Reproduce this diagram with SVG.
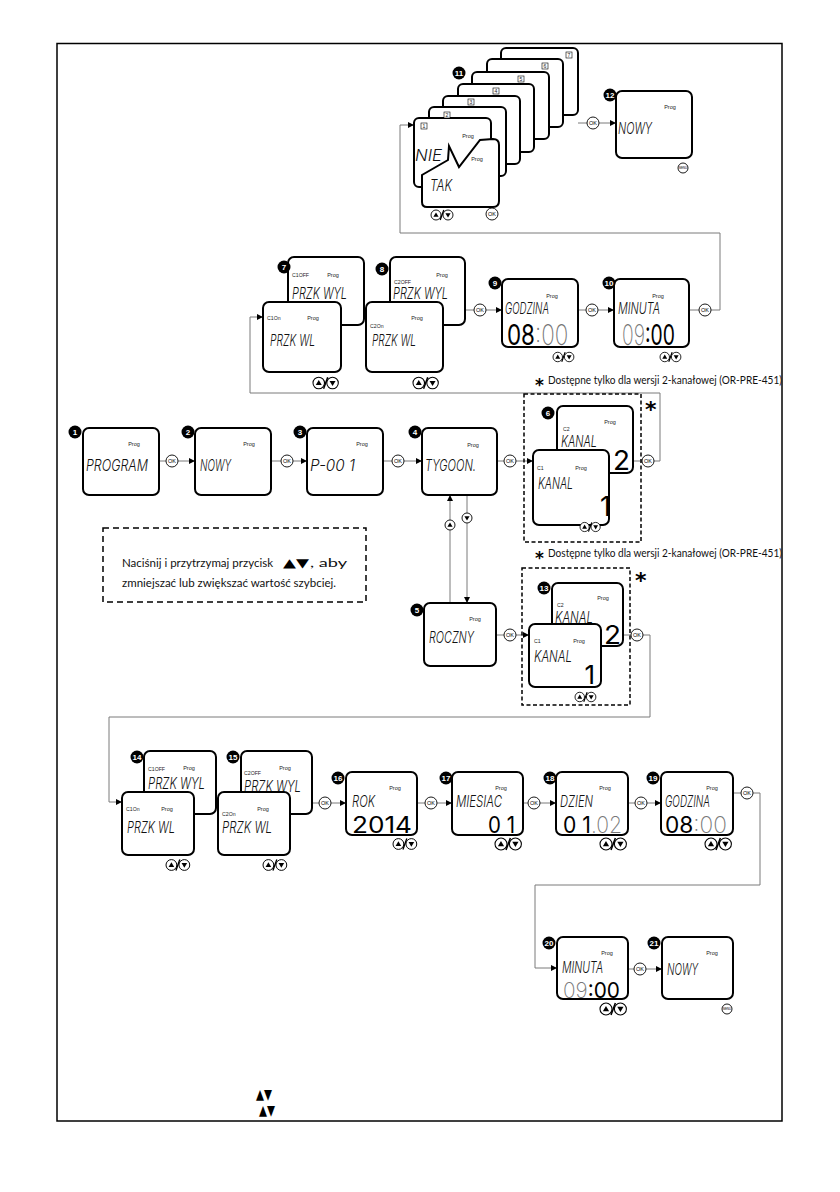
<svg xmlns="http://www.w3.org/2000/svg" xmlns:xlink="http://www.w3.org/1999/xlink" width="840" height="1192" viewBox="0 0 840 1192">
<style>
.box{fill:#fff;stroke:#000;stroke-width:2}
.conn{fill:none;stroke:#7a7a7a;stroke-width:1}
.arr{fill:none;stroke:#7a7a7a;stroke-width:1;marker-end:url(#ah)}
.prog{font-family:"Liberation Sans",Arial,sans-serif;font-size:5.5px;text-anchor:middle;fill:#222}
.ch{font-family:"Liberation Sans",Arial,sans-serif;font-size:5.2px;fill:#222}
.lcd{font-family:Inter,"DejaVu Sans",sans-serif;font-style:italic;font-weight:300;font-size:16px;fill:#111}
.dig{font-family:Inter,"DejaVu Sans",sans-serif;font-weight:400;fill:#000}
.off{fill:#777;font-weight:200}
.bc{fill:#000}
.bt{font-family:"Liberation Sans",Arial,sans-serif;font-weight:bold;font-size:8px;fill:#fff;text-anchor:middle}
.btn{fill:#fff;stroke:#000;stroke-width:0.9}
.note{font-family:Lato,"Liberation Sans",sans-serif;font-size:11.5px;fill:#111}
.small{font-family:"Liberation Sans",Arial,sans-serif;font-size:5px;fill:#222;text-anchor:middle}
.dash{fill:none;stroke:#000;stroke-width:1.5;stroke-dasharray:4 2.5}
</style>
<defs>
<marker id="ah" viewBox="0 0 6 6" refX="6" refY="3" markerWidth="6" markerHeight="6" markerUnits="userSpaceOnUse" orient="auto"><path d="M0,0 L6,3 L0,6 Z" fill="#000"/></marker>
<g id="ud"><circle cx="5" cy="0" r="5" class="btn"/><path d="M5,-2.6 L7.6,1.8 L2.4,1.8 Z"/><line x1="9.2" y1="5" x2="12.8" y2="-5" stroke="#000" stroke-width="1.3"/><circle cx="17" cy="0" r="5" class="btn"/><path d="M17,2.6 L19.6,-1.8 L14.4,-1.8 Z"/></g>
<g id="ok"><circle r="6" class="btn"/><text y="2" font-family="Liberation Sans,Arial,sans-serif" font-size="5.5" text-anchor="middle">OK</text></g>
<g id="menu"><circle r="5" class="btn"/><text y="1" font-family="Liberation Sans,Arial,sans-serif" font-size="2.8" text-anchor="middle">MENU</text></g>
</defs>
<rect width="840" height="1192" fill="#fff"/>
<rect x="57" y="43.5" width="725" height="1077.5" fill="none" stroke="#000" stroke-width="1.5"/>

<g id="connectors">
<path class="conn" d="M689,310 L699,310"/><path class="arr" d="M711,310 L720,310 L720,233 L400,233 L400,125 L414,125"/>
<path class="conn" d="M578,123 L587,123"/><path class="arr" d="M599,123 L616,123"/>
<path class="conn" d="M465,310 L474,310"/><path class="arr" d="M486,310 L502,310"/>
<path class="conn" d="M578,310 L586,310"/><path class="arr" d="M598,310 L614,310"/>
<path class="conn" d="M633,461 L642,461"/><path class="arr" d="M654,461 L660,461 L660,393 L250,393 L250,317 L263,317"/>
<path class="conn" d="M159,461 L166,461"/><path class="arr" d="M178,461 L195,461"/>
<path class="conn" d="M271,461 L281,461"/><path class="arr" d="M293,461 L307,461"/>
<path class="conn" d="M383,461 L392,461"/><path class="arr" d="M404,461 L422,461"/>
<path class="conn" d="M497,461 L504,461"/><path class="arr" d="M516,461 L533,461"/>
<path class="conn" d="M450,603 L450,530"/><path class="arr" d="M450,520 L450,495"/>
<path class="conn" d="M467,495 L467,513"/><path class="arr" d="M467,523 L467,603"/>
<path class="conn" d="M496,635 L504,635"/><path class="arr" d="M516,635 L529,635"/>
<path class="conn" d="M623,635 L631,635"/><path class="arr" d="M643,635 L650,635 L650,717 L109,717 L109,802 L122,802"/>
<path class="conn" d="M312,803 L319,803"/><path class="arr" d="M331,803 L346,803"/>
<path class="conn" d="M417,803 L425,803"/><path class="arr" d="M437,803 L452,803"/>
<path class="conn" d="M523,803 L528,803"/><path class="arr" d="M540,803 L556,803"/>
<path class="conn" d="M628,803 L635,803"/><path class="arr" d="M647,803 L661,803"/>
<path class="conn" d="M733,793 L741,793"/><path class="arr" d="M753,793 L760,793 L760,885 L535,885 L535,968 L557,968"/>
<path class="conn" d="M628,969 L634,969"/><path class="arr" d="M646,969 L662,969"/>
<use xlink:href="#ok" x="705" y="310"/>
<use xlink:href="#ok" x="593" y="123"/>
<use xlink:href="#ok" x="480" y="310"/>
<use xlink:href="#ok" x="592" y="310"/>
<use xlink:href="#ok" x="648" y="461"/>
<use xlink:href="#ok" x="172" y="461"/>
<use xlink:href="#ok" x="287" y="461"/>
<use xlink:href="#ok" x="398" y="461"/>
<use xlink:href="#ok" x="510" y="461"/>
<use xlink:href="#ok" x="510" y="635"/>
<use xlink:href="#ok" x="637" y="635"/>
<use xlink:href="#ok" x="325" y="803"/>
<use xlink:href="#ok" x="431" y="803"/>
<use xlink:href="#ok" x="534" y="803"/>
<use xlink:href="#ok" x="641" y="803"/>
<use xlink:href="#ok" x="747" y="793"/>
<use xlink:href="#ok" x="640" y="969"/>
<g id="btn-up"><circle cx="450" cy="525" r="5" class="btn"/><path d="M450,522.4 L452.6,526.8 L447.4,526.8 Z"/></g>
<g id="btn-down"><circle cx="467" cy="518" r="5" class="btn"/><path d="M467,520.6 L469.6,516.2 L464.4,516.2 Z"/></g>
</g>

<g id="n11">
<rect class="box" x="501" y="48" width="77" height="67" rx="5"/>
<rect class="box" x="487" y="59" width="76" height="68" rx="5"/>
<rect class="box" x="472" y="72" width="77" height="67" rx="5"/>
<rect class="box" x="458" y="84" width="76" height="68" rx="5"/>
<rect class="box" x="443" y="96" width="77" height="68" rx="5"/>
<rect class="box" x="429" y="107" width="77" height="69" rx="5"/>
<rect class="box" x="414" y="118" width="77" height="69" rx="5"/>
<g fill="#fff" stroke="#000" stroke-width="0.6">
<rect x="566" y="52" width="6" height="6"/><rect x="542" y="63" width="6" height="6"/><rect x="518" y="76" width="6" height="6"/><rect x="493" y="88" width="6" height="6"/><rect x="468" y="99" width="6" height="6"/><rect x="444" y="112" width="6" height="6"/><rect x="421" y="123" width="6" height="6"/>
</g>
<text class="small" x="569" y="57">7</text><text class="small" x="545" y="68">6</text><text class="small" x="521" y="81">5</text><text class="small" x="496" y="93">4</text><text class="small" x="471" y="104">3</text><text class="small" x="447" y="117">2</text><text class="small" x="424" y="128">1</text>
<text class="prog" x="468" y="138">Prog</text>
<text class="lcd" x="415" y="161" font-size="18" textLength="27" lengthAdjust="spacingAndGlyphs">NIE</text>
<path class="box" d="M427,207 Q422,207 422,202 L422,175 L448,160 L449,146 L459,167 L480,140 L493,139 Q499,139 499,145 L499,201 Q499,207 493,207 Z"/>
<text class="prog" x="477" y="161">Prog</text>
<text class="lcd" x="430" y="191" font-size="18" textLength="22" lengthAdjust="spacingAndGlyphs">TAK</text>
<circle class="bc" cx="459" cy="73" r="6.5"/><text class="bt" x="459" y="76">11</text>
<use xlink:href="#ud" transform="translate(431,215)"/>
<use xlink:href="#ok" x="492" y="214"/>
</g>

<g id="n12">
<rect class="box" x="616" y="91" width="76" height="67" rx="6"/>
<text class="prog" x="670" y="109">Prog</text>
<text class="lcd" x="618" y="134" textLength="34" lengthAdjust="spacingAndGlyphs">NOWY</text>
<circle class="bc" cx="610" cy="95" r="6.5"/><text class="bt" x="610" y="98">12</text>
<use xlink:href="#menu" x="683" y="168"/>
</g>

<g id="n7">
<rect class="box" x="288" y="257" width="76" height="68" rx="6"/>
<text class="ch" x="292" y="277">C1OFF</text><text class="prog" x="333" y="277">Prog</text>
<text class="lcd" x="292" y="299" font-size="14" textLength="55" lengthAdjust="spacingAndGlyphs">PRZK WYL</text>
<rect class="box" x="263" y="302" width="78" height="70" rx="6"/>
<text class="ch" x="267" y="320">C1On</text><text class="prog" x="313" y="320">Prog</text>
<text class="lcd" x="270" y="346" font-size="15" textLength="45" lengthAdjust="spacingAndGlyphs">PRZK WL</text>
<circle class="bc" cx="284" cy="267" r="6.5"/><text class="bt" x="284" y="270">7</text>
<use xlink:href="#ud" transform="translate(313,383) scale(1.15)"/>
</g>

<g id="n8">
<rect class="box" x="390" y="257" width="75" height="68" rx="6"/>
<text class="ch" x="394" y="284">C2OFF</text><text class="prog" x="442" y="277">Prog</text>
<text class="lcd" x="393" y="299" font-size="14" textLength="55" lengthAdjust="spacingAndGlyphs">PRZK WYL</text>
<rect class="box" x="366" y="302" width="77" height="70" rx="6"/>
<text class="ch" x="370" y="328">C2On</text><text class="prog" x="417" y="320">Prog</text>
<text class="lcd" x="372" y="346" font-size="15" textLength="44" lengthAdjust="spacingAndGlyphs">PRZK WL</text>
<circle class="bc" cx="382" cy="269" r="6.5"/><text class="bt" x="382" y="272">8</text>
<use xlink:href="#ud" transform="translate(413,383) scale(1.15)"/>
</g>

<g id="n9">
<rect class="box" x="502" y="279" width="76" height="68" rx="6"/>
<text class="prog" x="552" y="298">Prog</text>
<text class="lcd" x="505" y="314" font-size="15" textLength="44" lengthAdjust="spacingAndGlyphs">GODZINA</text>
<text class="dig" transform="translate(507,345) scale(0.8,1)" font-size="28">08<tspan class="off">:00</tspan></text>
<circle class="bc" cx="495" cy="283" r="6.5"/><text class="bt" x="495" y="286">9</text>
<use xlink:href="#ud" transform="translate(553,357) scale(0.95)"/>
</g>

<g id="n10">
<rect class="box" x="614" y="279" width="75" height="68" rx="6"/>
<text class="prog" x="658" y="298">Prog</text>
<text class="lcd" x="618" y="314" font-size="15" textLength="42" lengthAdjust="spacingAndGlyphs">MINUTA</text>
<text class="dig" transform="translate(622,345) scale(0.69,1)" font-size="28"><tspan class="off">09</tspan>:00</text>
<circle class="bc" cx="609" cy="283" r="6.5"/><text class="bt" x="609" y="286">10</text>
<use xlink:href="#ud" transform="translate(660,357) scale(0.95)"/>
</g>

<g id="note1">
<text class="note" x="548" y="384" textLength="234" lengthAdjust="spacingAndGlyphs">Dostępne tylko dla wersji 2-kanałowej (OR-PRE-451)</text>
<text x="535" y="391" font-family="DejaVu Sans,sans-serif" font-weight="bold" font-size="17">*</text>
</g>

<g id="n1">
<rect class="box" x="83" y="428" width="76" height="67" rx="6"/>
<text class="prog" x="134" y="446">Prog</text>
<text class="lcd" x="86" y="471" textLength="62" lengthAdjust="spacingAndGlyphs">PROGRAM</text>
<circle class="bc" cx="75" cy="432" r="6.5"/><text class="bt" x="75" y="435">1</text>
</g>
<g id="n2">
<rect class="box" x="195" y="428" width="76" height="67" rx="6"/>
<text class="prog" x="249" y="446">Prog</text>
<text class="lcd" x="200" y="471" textLength="31" lengthAdjust="spacingAndGlyphs">NOWY</text>
<circle class="bc" cx="188" cy="432" r="6.5"/><text class="bt" x="188" y="435">2</text>
</g>
<g id="n3">
<rect class="box" x="307" y="428" width="76" height="67" rx="6"/>
<text class="prog" x="362" y="446">Prog</text>
<text class="lcd" x="310" y="471" textLength="45" lengthAdjust="spacingAndGlyphs">P-00 1</text>
<circle class="bc" cx="300" cy="432" r="6.5"/><text class="bt" x="300" y="435">3</text>
</g>
<g id="n4">
<rect class="box" x="422" y="428" width="75" height="67" rx="6"/>
<text class="prog" x="473" y="447">Prog</text>
<text class="lcd" x="425" y="471" textLength="51" lengthAdjust="spacingAndGlyphs">TYGOON.</text>
<circle class="bc" cx="415" cy="432" r="6.5"/><text class="bt" x="415" y="435">4</text>
</g>

<g id="n6">
<rect class="dash" x="524" y="394" width="117" height="148"/>
<text x="645" y="417" font-family="DejaVu Sans,sans-serif" font-weight="bold" font-size="22">*</text>
<rect class="box" x="557" y="406" width="76" height="67" rx="6"/>
<text class="ch" x="563" y="431">C2</text><text class="prog" x="610" y="424">Prog</text>
<text class="lcd" x="561" y="447" font-size="14" textLength="36" lengthAdjust="spacingAndGlyphs">KANAL</text>
<text class="dig" x="613" y="470" font-size="27" textLength="17" lengthAdjust="spacingAndGlyphs">2</text>
<rect class="box" x="533" y="450" width="76" height="75" rx="6"/>
<text class="ch" x="537" y="470">C1</text><text class="prog" x="581" y="470">Prog</text>
<text class="lcd" x="538" y="489" font-size="15" textLength="35" lengthAdjust="spacingAndGlyphs">KANAL</text>
<text class="dig" x="611" y="516" font-size="27" text-anchor="end">1</text>
<circle class="bc" cx="548" cy="413" r="6.5"/><text class="bt" x="548" y="416">6</text>
<use xlink:href="#ud" transform="translate(580,527) scale(0.92)"/>
</g>

<g id="note2">
<text class="note" x="548" y="557" textLength="234" lengthAdjust="spacingAndGlyphs">Dostępne tylko dla wersji 2-kanałowej (OR-PRE-451)</text>
<text x="535" y="564" font-family="DejaVu Sans,sans-serif" font-weight="bold" font-size="17">*</text>
</g>

<g id="hint">
<rect x="103" y="528" width="263" height="74" fill="none" stroke="#000" stroke-width="1.5" stroke-dasharray="6 4"/>
<text class="note" x="122" y="567" font-size="10.5" textLength="151" lengthAdjust="spacingAndGlyphs">Naciśnij i przytrzymaj przycisk</text>
<text x="283" y="567" font-family="DejaVu Sans,sans-serif" font-size="12" textLength="26" lengthAdjust="spacingAndGlyphs">▲▼</text>
<text class="note" x="310" y="567" font-size="10.5" textLength="37" lengthAdjust="spacingAndGlyphs">, aby</text>
<text class="note" x="122" y="587" font-size="10.5" textLength="214" lengthAdjust="spacingAndGlyphs">zmniejszać lub zwiększać wartość szybciej.</text>
</g>

<g id="n5">
<rect class="box" x="424" y="603" width="72" height="63" rx="6"/>
<text class="prog" x="475" y="621">Prog</text>
<text class="lcd" x="429" y="643" font-size="15" textLength="45" lengthAdjust="spacingAndGlyphs">ROCZNY</text>
<circle class="bc" cx="417" cy="610" r="6.5"/><text class="bt" x="417" y="613">5</text>
</g>

<g id="n13">
<rect class="dash" x="522" y="568" width="108" height="137"/>
<text x="635" y="588" font-family="DejaVu Sans,sans-serif" font-weight="bold" font-size="22">*</text>
<rect class="box" x="552" y="583" width="71" height="63" rx="6"/>
<text class="ch" x="557" y="607">C2</text><text class="prog" x="603" y="600">Prog</text>
<text class="lcd" x="555" y="623" font-size="14" textLength="38" lengthAdjust="spacingAndGlyphs">KANAL</text>
<text class="dig" x="604" y="644" font-size="26" textLength="17" lengthAdjust="spacingAndGlyphs">2</text>
<rect class="box" x="529" y="624" width="72" height="63" rx="6"/>
<text class="ch" x="534" y="643">C1</text><text class="prog" x="579" y="643">Prog</text>
<text class="lcd" x="534" y="662" font-size="15" textLength="38" lengthAdjust="spacingAndGlyphs">KANAL</text>
<text class="dig" x="595" y="684" font-size="26" text-anchor="end">1</text>
<circle class="bc" cx="544" cy="588" r="6.5"/><text class="bt" x="544" y="591">13</text>
<use xlink:href="#ud" transform="translate(575,697) scale(0.95)"/>
</g>

<g id="n14">
<rect class="box" x="144" y="751" width="72" height="63" rx="6"/>
<text class="ch" x="148" y="771">C1OFF</text><text class="prog" x="189" y="770">Prog</text>
<text class="lcd" x="148" y="789" font-size="15" textLength="57" lengthAdjust="spacingAndGlyphs">PRZK WYL</text>
<rect class="box" x="122" y="792" width="72" height="63" rx="6"/>
<text class="ch" x="126" y="811">C1On</text><text class="prog" x="167" y="811">Prog</text>
<text class="lcd" x="127" y="833" font-size="15" textLength="48" lengthAdjust="spacingAndGlyphs">PRZK WL</text>
<circle class="bc" cx="137" cy="757" r="6.5"/><text class="bt" x="137" y="760">14</text>
<use xlink:href="#ud" transform="translate(166,865) scale(1.08)"/>
</g>

<g id="n15">
<rect class="box" x="241" y="751" width="71" height="63" rx="6"/>
<text class="ch" x="244" y="775">C2OFF</text><text class="prog" x="285" y="770">Prog</text>
<text class="lcd" x="244" y="792" font-size="14" textLength="57" lengthAdjust="spacingAndGlyphs">PRZK WYL</text>
<rect class="box" x="218" y="792" width="72" height="63" rx="6"/>
<text class="ch" x="222" y="816">C2On</text><text class="prog" x="263" y="811">Prog</text>
<text class="lcd" x="222" y="833" font-size="14" textLength="50" lengthAdjust="spacingAndGlyphs">PRZK WL</text>
<circle class="bc" cx="233" cy="757" r="6.5"/><text class="bt" x="233" y="760">15</text>
<use xlink:href="#ud" transform="translate(263,865) scale(1.08)"/>
</g>

<g id="n16">
<rect class="box" x="346" y="772" width="71" height="63" rx="6"/>
<text class="prog" x="395" y="790">Prog</text>
<text class="lcd" x="352" y="807" font-size="14" textLength="23" lengthAdjust="spacingAndGlyphs">ROK</text>
<text class="dig" x="352" y="833" font-size="23" textLength="60" lengthAdjust="spacingAndGlyphs">2014</text>
<circle class="bc" cx="338" cy="778" r="6.5"/><text class="bt" x="338" y="781">16</text>
<use xlink:href="#ud" transform="translate(393,844) scale(1.08)"/>
</g>

<g id="n17">
<rect class="box" x="452" y="772" width="71" height="63" rx="6"/>
<text class="prog" x="501" y="790">Prog</text>
<text class="lcd" x="456" y="807" font-size="14" textLength="46" lengthAdjust="spacingAndGlyphs">MIESIAC</text>
<text class="dig" x="488" y="833" font-size="23" textLength="27" lengthAdjust="spacingAndGlyphs">0 1</text>
<circle class="bc" cx="446" cy="778" r="6.5"/><text class="bt" x="446" y="781">17</text>
<use xlink:href="#ud" transform="translate(495,844) scale(1.2)"/>
</g>

<g id="n18">
<rect class="box" x="556" y="772" width="72" height="63" rx="6"/>
<text class="prog" x="605" y="790">Prog</text>
<text class="lcd" x="560" y="807" font-size="14" textLength="33" lengthAdjust="spacingAndGlyphs">DZIEN</text>
<text class="dig" x="563" y="833" font-size="23" textLength="59" lengthAdjust="spacingAndGlyphs">0 1<tspan class="off">.02</tspan></text>
<circle class="bc" cx="550" cy="778" r="6.5"/><text class="bt" x="550" y="781">18</text>
<use xlink:href="#ud" transform="translate(600,844) scale(1.2)"/>
</g>

<g id="n19">
<rect class="box" x="661" y="772" width="72" height="63" rx="6"/>
<text class="prog" x="712" y="790">Prog</text>
<text class="lcd" x="665" y="807" font-size="14" textLength="45" lengthAdjust="spacingAndGlyphs">GODZINA</text>
<text class="dig" x="665" y="833" font-size="23" textLength="62" lengthAdjust="spacingAndGlyphs">08<tspan class="off">:00</tspan></text>
<circle class="bc" cx="653" cy="778" r="6.5"/><text class="bt" x="653" y="781">19</text>
<use xlink:href="#ud" transform="translate(705,844) scale(1.2)"/>
</g>

<g id="n20">
<rect class="box" x="557" y="937" width="71" height="62" rx="6"/>
<text class="prog" x="607" y="955">Prog</text>
<text class="lcd" x="562" y="973" font-size="14" textLength="41" lengthAdjust="spacingAndGlyphs">MINUTA</text>
<text class="dig" x="563" y="998" font-size="22" textLength="57" lengthAdjust="spacingAndGlyphs"><tspan class="off">09</tspan>:00</text>
<circle class="bc" cx="549" cy="943" r="6.5"/><text class="bt" x="549" y="946">20</text>
<use xlink:href="#ud" transform="translate(600,1009) scale(1.2)"/>
</g>

<g id="n21">
<rect class="box" x="662" y="937" width="71" height="62" rx="6"/>
<text class="prog" x="712" y="955">Prog</text>
<text class="lcd" x="667" y="975" font-size="14" textLength="31" lengthAdjust="spacingAndGlyphs">NOWY</text>
<circle class="bc" cx="654" cy="943" r="6.5"/><text class="bt" x="654" y="946">21</text>
<use xlink:href="#menu" x="727" y="1009"/>
</g>

<g id="bottom-symbols">
<text x="256" y="1099" font-family="DejaVu Sans,sans-serif" font-size="14" textLength="16" lengthAdjust="spacingAndGlyphs">▲▼</text>
<text x="259" y="1115" font-family="DejaVu Sans,sans-serif" font-size="14" textLength="16" lengthAdjust="spacingAndGlyphs">▲▼</text>
</g>
</svg>
